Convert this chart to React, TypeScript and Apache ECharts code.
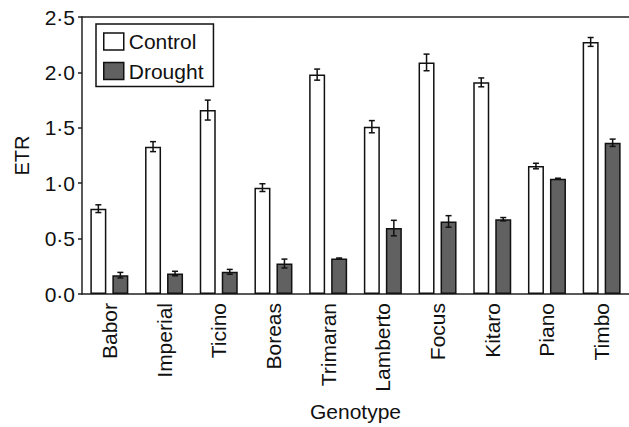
import React, { useEffect, useRef } from "react";
import * as echarts from "echarts";

const genotypes = ["Babor", "Imperial", "Ticino", "Boreas", "Trimaran", "Lamberto", "Focus", "Kitaro", "Piano", "Timbo"];
const controlValues = [0.77, 1.33, 1.66, 0.96, 1.98, 1.51, 2.09, 1.91, 1.155, 2.275];
const controlErrors = [0.035, 0.045, 0.09, 0.035, 0.05, 0.055, 0.075, 0.04, 0.025, 0.04];
const droughtValues = [0.17, 0.185, 0.2, 0.275, 0.32, 0.595, 0.655, 0.675, 1.04, 1.365];
const droughtErrors = [0.025, 0.02, 0.022, 0.04, 0.005, 0.07, 0.052, 0.015, 0.005, 0.033];

const FONT = "'Liberation Sans', Arial, Helvetica, sans-serif";
const BAR_W = 16;
const GAP = 6;

function errorSeries(name: string, values: number[], errors: number[], offset: number) {
  return {
    type: "custom",
    name: name + "-err",
    z: 10,
    silent: true,
    data: values.map((v, i) => [i, v, errors[i]]),
    encode: { x: 0, y: 1 },
    renderItem: (params: any, api: any) => {
      const i = api.value(0);
      const v = api.value(1);
      const e = api.value(2);
      const hi = api.coord([i, v + e]);
      const lo = api.coord([i, v - e]);
      const x = hi[0] + offset;
      const cap = 3;
      const style = { stroke: "#111", lineWidth: 1.5, fill: null };
      return {
        type: "group",
        children: [
          { type: "line", shape: { x1: x, y1: hi[1], x2: x, y2: lo[1] }, style },
          { type: "line", shape: { x1: x - cap, y1: hi[1], x2: x + cap, y2: hi[1] }, style },
          { type: "line", shape: { x1: x - cap, y1: lo[1], x2: x + cap, y2: lo[1] }, style },
        ],
      };
    },
  };
}

export default function App() {
  const ref = useRef<HTMLDivElement>(null);
  useEffect(() => {
    if (!ref.current) return;
    const chart = echarts.init(ref.current, undefined, { renderer: "svg" });
    const off = (BAR_W + GAP) / 2;
    chart.setOption({
      animation: false,
      backgroundColor: "#fff",
      textStyle: { fontFamily: FONT, color: "#111" },
      grid: { left: 82, right: 0, top: 17, bottom: 126, containLabel: false },
      legend: {
        orient: "vertical",
        left: 96,
        top: 24,
        padding: [7, 10, 5, 7],
        itemWidth: 20,
        itemHeight: 17,
        itemGap: 8.5,
        borderColor: "#111",
        borderWidth: 1.5,
        backgroundColor: "#fff",
        textStyle: { fontFamily: FONT, fontSize: 21, color: "#111" },
        data: [
          { name: "Control", icon: "rect", itemStyle: { color: "#fff", borderColor: "#111", borderWidth: 1.5 } },
          { name: "Drought", icon: "rect", itemStyle: { color: "#616161", borderColor: "#111", borderWidth: 1.5 } },
        ],
      },
      xAxis: [
        {
          type: "category",
          data: genotypes,
          position: "bottom",
          axisLine: { show: true, lineStyle: { color: "#222", width: 1.5 } },
          axisTick: { show: false },
          axisLabel: { rotate: 90, fontSize: 21, color: "#111", fontFamily: FONT, margin: 9, interval: 0 },
          name: "Genotype",
          nameLocation: "middle",
          nameGap: 107,
          nameTextStyle: { fontSize: 21, color: "#111", fontFamily: FONT },
        },
        {
          type: "value",
          position: "top",
          min: 0,
          max: 1,
          axisLine: { show: true, onZero: false, lineStyle: { color: "#222", width: 1.5 } },
          axisTick: { show: false },
          axisLabel: { show: false },
          splitLine: { show: false },
        },
      ],
      yAxis: {
        type: "value",
        min: 0,
        max: 2.5,
        interval: 0.5,
        axisLine: { show: true, lineStyle: { color: "#222", width: 1.5 } },
        axisTick: { show: true, inside: false, length: 4, lineStyle: { color: "#222", width: 1.5 } },
        axisLabel: {
          fontSize: 21,
          color: "#111",
          fontFamily: FONT,
          margin: 7,
          formatter: (v: number) => v.toFixed(1).replace(".", "·"),
        },
        splitLine: { show: false },
        name: "ETR",
        nameLocation: "middle",
        nameGap: 50,
        nameTextStyle: { fontSize: 20, color: "#111", fontFamily: FONT },
      },
      series: [
        {
          name: "Control",
          type: "bar",
          data: controlValues,
          barWidth: BAR_W,
          barGap: (GAP / BAR_W) * 100 + "%",
          itemStyle: { color: "#fff", borderColor: "#111", borderWidth: 1.5 },
        },
        {
          name: "Drought",
          type: "bar",
          data: droughtValues,
          barWidth: BAR_W,
          barGap: (GAP / BAR_W) * 100 + "%",
          itemStyle: { color: "#616161", borderColor: "#111", borderWidth: 1.5 },
        },
        errorSeries("Control", controlValues, controlErrors, -off),
        errorSeries("Drought", droughtValues, droughtErrors, off),
      ],
    });
    return () => chart.dispose();
  }, []);
  return <div ref={ref} style={{ position: "absolute", left: 0, top: 0, width: 629, height: 427 }} />;
}
